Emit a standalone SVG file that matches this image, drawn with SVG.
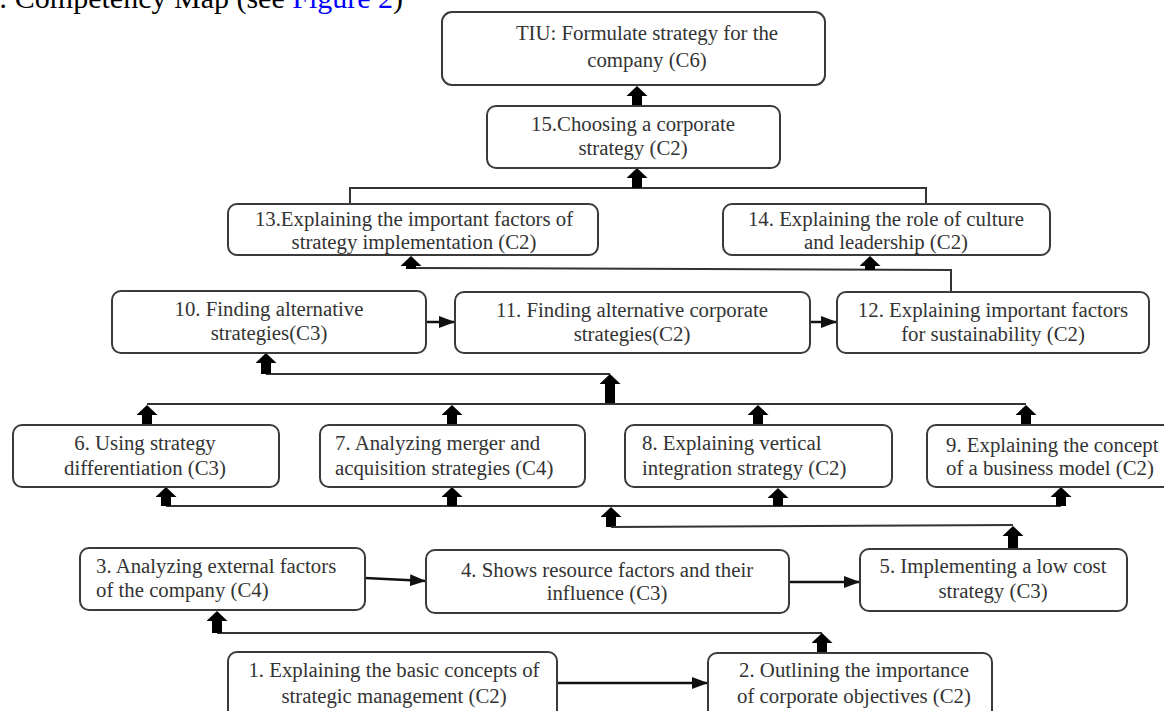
<svg xmlns="http://www.w3.org/2000/svg" width="1164" height="711" viewBox="0 0 1164 711">
<style>
.box{fill:#fff;stroke:#3a3a3a;stroke-width:2}
.t{font-family:"Liberation Serif","Times New Roman",serif;font-size:20.8px;fill:#333}
.c{text-anchor:middle}
.ln{fill:none;stroke:#333;stroke-width:2}
.blk{fill:none;stroke:#000;stroke-width:10;marker-end:url(#bh)}
.thin{fill:none;stroke:#111;stroke-width:2.5;marker-end:url(#th)}
.cap{font-family:"Liberation Serif","Times New Roman",serif;font-size:30px;fill:#000}
</style>
<defs>
<marker id="bh" markerUnits="userSpaceOnUse" markerWidth="10" markerHeight="21" viewBox="0 -10.5 10 21" refX="0" refY="0" orient="auto"><path d="M0,-10.5 L10,0 L0,10.5 Z" fill="#000"/></marker>
<marker id="th" markerUnits="userSpaceOnUse" markerWidth="16" markerHeight="12" viewBox="0 -6 16 12" refX="16" refY="0" orient="auto"><path d="M0,-6 L16,0 L0,6 Z" fill="#111"/></marker>
</defs>
<rect width="1164" height="711" fill="#fff"/>
<text class="cap" x="-1" y="8">: Competency Map (see <tspan fill="#0000ff">Figure 2</tspan>)</text>

<g id="connectors">
<!-- 15 -> TIU -->
<line class="blk" x1="637" y1="106" x2="637" y2="96"/>
<!-- 13,14 -> 15 -->
<polyline class="ln" points="350,204 350,188 926,188 926,204"/>
<line class="blk" x1="637" y1="188" x2="637" y2="178"/>
<!-- 12 -> 13,14 -->
<polyline class="ln" points="411,268 951,270 951,292"/>
<line class="blk" x1="411" y1="269" x2="411" y2="266"/>
<line class="blk" x1="870" y1="270" x2="870" y2="266"/>
<!-- 10 -> 11 -> 12 -->
<line class="thin" x1="426" y1="322" x2="455" y2="322"/>
<line class="thin" x1="810" y1="322" x2="837" y2="322"/>
<!-- 6..9 -> 10 -->
<polyline class="ln" points="266,374 610,374"/>
<line class="blk" x1="266" y1="374" x2="266" y2="363"/>
<line class="blk" x1="610" y1="404" x2="610" y2="384"/>
<polyline class="ln" points="147,404 1026,404"/>
<line class="blk" x1="147" y1="425" x2="147" y2="415"/>
<line class="blk" x1="452" y1="425" x2="452" y2="415"/>
<line class="blk" x1="758" y1="425" x2="758" y2="415"/>
<line class="blk" x1="1026" y1="425" x2="1026" y2="415"/>
<!-- 5 -> 6..9 -->
<polyline class="ln" points="166,506 1061,506"/>
<line class="blk" x1="166" y1="506" x2="166" y2="497"/>
<line class="blk" x1="452" y1="506" x2="452" y2="497"/>
<line class="blk" x1="778" y1="506" x2="778" y2="498"/>
<line class="blk" x1="1061" y1="506" x2="1061" y2="497"/>
<line class="blk" x1="611" y1="527" x2="611" y2="517"/>
<polyline class="ln" points="611,527 1013,525"/>
<line class="blk" x1="1013" y1="549" x2="1013" y2="536"/>
<!-- 3 -> 4 -> 5 -->
<line class="thin" x1="365" y1="578" x2="426" y2="581"/>
<line class="thin" x1="789" y1="582" x2="860" y2="582"/>
<!-- 1,2 -> 3 -->
<polyline class="ln" points="217,633 822,633"/>
<line class="blk" x1="217" y1="633" x2="217" y2="621"/>
<line class="blk" x1="822" y1="652" x2="822" y2="643"/>
<!-- 1 -> 2 -->
<line class="thin" x1="557" y1="683" x2="708" y2="683"/>
</g>

<g id="tiu">
<rect class="box" x="442" y="12" width="383" height="73" rx="10"/>
<text class="t c" x="647" y="40">TIU: Formulate strategy for the</text>
<text class="t c" x="647" y="67">company (C6)</text>
</g>
<g id="n15">
<rect class="box" x="487" y="106" width="293" height="62" rx="9"/>
<text class="t c" x="633" y="131">15.Choosing a corporate</text>
<text class="t c" x="633" y="155">strategy (C2)</text>
</g>
<g id="n13">
<rect class="box" x="228" y="204" width="370" height="51" rx="9"/>
<text class="t c" x="414" y="226">13.Explaining the important factors of</text>
<text class="t c" x="414" y="249">strategy implementation (C2)</text>
</g>
<g id="n14">
<rect class="box" x="723" y="204" width="327" height="51" rx="9"/>
<text class="t c" x="886" y="226">14. Explaining the role of culture</text>
<text class="t c" x="886" y="249">and leadership (C2)</text>
</g>
<g id="n10">
<rect class="box" x="112" y="291" width="314" height="62" rx="9"/>
<text class="t c" x="269" y="316">10. Finding alternative</text>
<text class="t c" x="269" y="340">strategies(C3)</text>
</g>
<g id="n11">
<rect class="box" x="455" y="292" width="355" height="61" rx="9"/>
<text class="t c" x="632" y="317">11. Finding alternative corporate</text>
<text class="t c" x="632" y="341">strategies(C2)</text>
</g>
<g id="n12">
<rect class="box" x="837" y="292" width="312" height="61" rx="9"/>
<text class="t c" x="993" y="317">12. Explaining important factors</text>
<text class="t c" x="993" y="341">for sustainability (C2)</text>
</g>
<g id="n6">
<rect class="box" x="13" y="425" width="266" height="62" rx="9"/>
<text class="t c" x="145" y="450">6. Using strategy</text>
<text class="t c" x="145" y="475">differentiation (C3)</text>
</g>
<g id="n7">
<rect class="box" x="320" y="425" width="265" height="62" rx="9"/>
<text class="t" x="335" y="450">7. Analyzing merger and</text>
<text class="t" x="335" y="475">acquisition strategies (C4)</text>
</g>
<g id="n8">
<rect class="box" x="625" y="425" width="267" height="62" rx="9"/>
<text class="t" x="642" y="450">8. Explaining vertical</text>
<text class="t" x="642" y="475">integration strategy (C2)</text>
</g>
<g id="n9">
<rect class="box" x="927" y="425" width="250" height="62" rx="9"/>
<text class="t" x="946" y="452">9. Explaining the concept</text>
<text class="t" x="946" y="475">of a business model (C2)</text>
</g>
<g id="n3">
<rect class="box" x="80" y="548" width="285" height="62" rx="9"/>
<text class="t" x="96" y="573">3. Analyzing external factors</text>
<text class="t" x="96" y="597">of the company (C4)</text>
</g>
<g id="n4">
<rect class="box" x="426" y="550" width="363" height="63" rx="9"/>
<text class="t c" x="607" y="577">4. Shows resource factors and their</text>
<text class="t c" x="607" y="600">influence (C3)</text>
</g>
<g id="n5">
<rect class="box" x="860" y="549" width="267" height="62" rx="9"/>
<text class="t c" x="993" y="573">5. Implementing a low cost</text>
<text class="t c" x="993" y="598">strategy (C3)</text>
</g>
<g id="n1">
<rect class="box" x="228" y="652" width="329" height="70" rx="9"/>
<text class="t c" x="394" y="677">1. Explaining the basic concepts of</text>
<text class="t c" x="394" y="703">strategic management (C2)</text>
</g>
<g id="n2">
<rect class="box" x="708" y="653" width="284" height="70" rx="9"/>
<text class="t c" x="854" y="677">2. Outlining the importance</text>
<text class="t c" x="854" y="703">of corporate objectives (C2)</text>
</g>
</svg>
